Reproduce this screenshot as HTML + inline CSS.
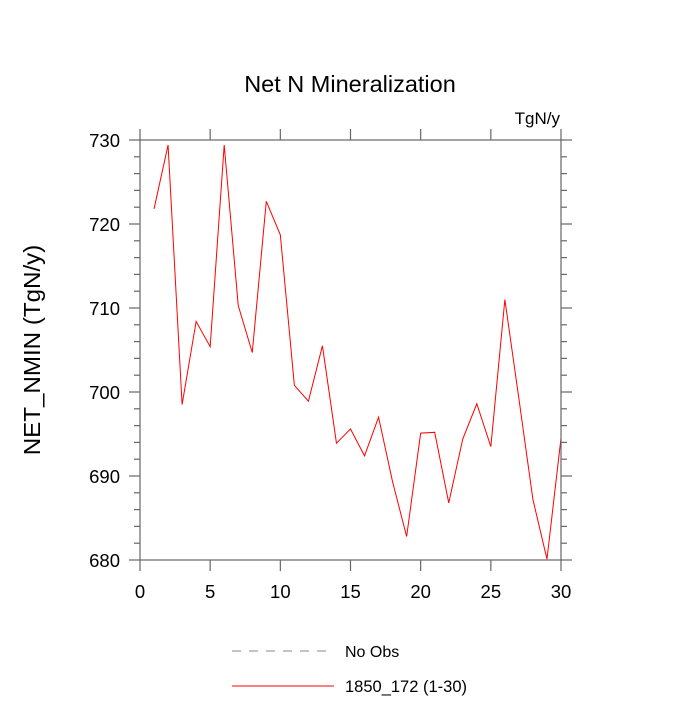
<!DOCTYPE html>
<html><head><meta charset="utf-8"><style>
body{margin:0;background:#fff}
svg text{font-family:"Liberation Sans",Arial,sans-serif;fill:#000}
</style></head><body>
<svg id="chart" width="700" height="700" xmlns="http://www.w3.org/2000/svg">
<text x="350" y="92" font-size="23.5" text-anchor="middle">Net N Mineralization</text>
<text x="560" y="124" font-size="17" text-anchor="end">TgN/y</text>
<text transform="translate(40,350) rotate(-90) scale(1.05,1)" font-size="23" text-anchor="middle">NET_NMIN  (TgN/y)</text>
<g id="axes"></g>
<polyline id="series" fill="none" stroke="#ff0000" stroke-width="1"/>
<rect x="140" y="140" width="421" height="420" fill="none" stroke="#666" stroke-width="1.2"/>
<g>
<line x1="232" y1="651" x2="328" y2="651" stroke="#888" stroke-dasharray="9,8"/>
<text x="345" y="657" font-size="16">No Obs</text>
<line x1="232" y1="686" x2="334" y2="686" stroke="#ff0000"/>
<text x="345" y="692" font-size="16.5">1850_172 (1-30)</text>
</g>
</svg>
<script>
const years=[1,2,3,4,5,6,7,8,9,10,11,12,13,14,15,16,17,18,19,20,21,22,23,24,25,26,27,28,29,30];
const values=[721.8,729.4,698.5,708.4,705.4,729.4,710.3,704.7,722.7,718.7,700.8,698.9,705.5,693.9,695.6,692.4,697.0,689.3,682.8,695.1,695.2,686.8,694.4,698.6,693.5,711.0,699.2,687.2,680.1,694.5];
const xTicks=[0,5,10,15,20,25,30];
const yTicks=[680,690,700,710,720,730];
const X0=140,X1=561,Y0=560,Y1=140;
function sx(v){return X0+(v-0)/(30-0)*(X1-X0);}
function sy(v){return Y0-(v-680)/(730-680)*(Y0-Y1);}
const NS="http://www.w3.org/2000/svg";
const g=document.getElementById('axes');
function ln(x1,y1,x2,y2,name){const l=document.createElementNS(NS,'line');l.setAttribute('x1',x1);l.setAttribute('y1',y1);l.setAttribute('x2',x2);l.setAttribute('y2',y2);l.setAttribute('stroke','#666');l.setAttribute('stroke-width','1.2');


g.appendChild(l);}
function tx(x,y,s,anchor,name){const t=document.createElementNS(NS,'text');t.setAttribute('x',x);t.setAttribute('y',y);t.setAttribute('font-size','18.5');t.setAttribute('text-anchor',anchor);t.textContent=s;


g.appendChild(t);}
xTicks.forEach(v=>{const x=sx(v);ln(x,Y0,x,Y0+11,'x-tick');ln(x,Y1,x,Y1-11,'x-tick-top');});
for(let v=680;v<=730;v+=2){const y=sy(v);const L=v%10===0?11:6;ln(X0,y,X0-L,y,'y-tick');ln(X1,y,X1+L,y,'y-tick-right');}
xTicks.forEach(v=>tx(sx(v),Y0+38,String(v),'middle','x-tick-label'));
yTicks.forEach(v=>tx(X0-20,sy(v)+7,String(v),'end','y-tick-label'));
document.getElementById('series').setAttribute('points',years.map((y,i)=>sx(y)+','+sy(values[i])).join(' '));
</script>
</body></html>
